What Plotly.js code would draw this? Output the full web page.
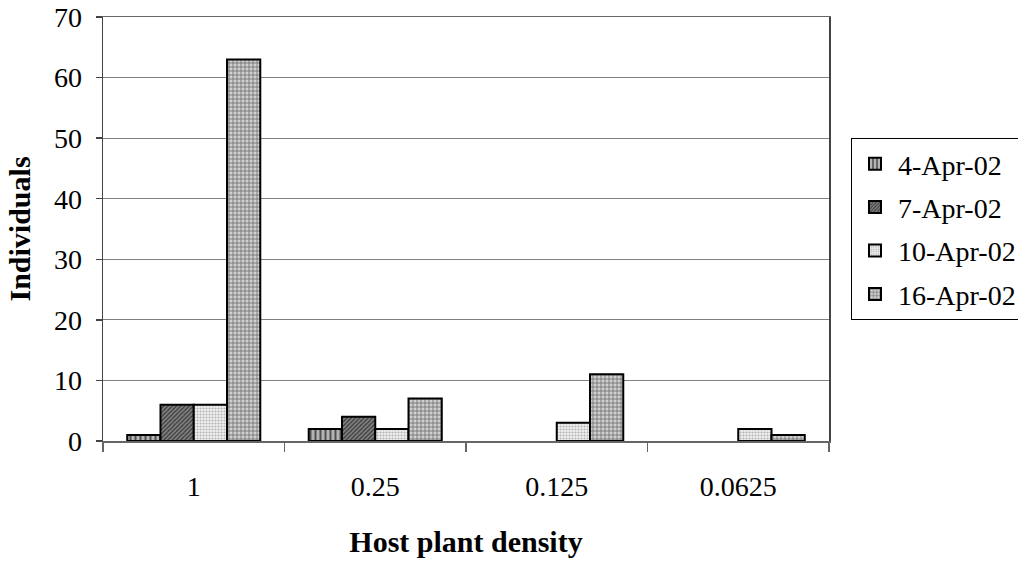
<!DOCTYPE html>
<html>
<head>
<meta charset="utf-8">
<script src="https://cdn.plot.ly/plotly-3.0.1.min.js"></script>
<style>
  html, body { margin: 0; padding: 0; background: #fff; }
  #chart { width: 1018px; height: 563px; }
</style>
</head>
<body>
<div id="chart"></div>
<script>
// Host plant density categories and counts per sampling date
const densities = ['1', '0.25', '0.125', '0.0625'];
const apr04 = [1, 2, 0, 0];
const apr07 = [6, 4, 0, 0];
const apr10 = [6, 2, 3, 2];
const apr16 = [63, 7, 11, 1];
const dateLabels = ['4-Apr-02', '7-Apr-02', '10-Apr-02', '16-Apr-02'];

const serif = 'Liberation Serif, Times New Roman, serif';

// Fill pattern for each sampling date
const styles = [
  { shape: '|', bg: '#b4b4b4', fg: '#505050', size: 5, solidity: 0.4 },
  { shape: '/', bg: '#858585', fg: '#3c3c3c', size: 3, solidity: 0.45 },
  { shape: '.', bg: '#f0f0f0', fg: '#b4b4b4', size: 3, solidity: 0.4 },
  { shape: '+', bg: '#d0d0d0', fg: '#6a6a6a', size: 4, solidity: 0.35 }
];

const series = [apr04, apr07, apr10, apr16];

const traces = series.map((vals, i) => ({
  type: 'bar',
  name: dateLabels[i],
  legendgroup: 'g' + i,
  x: densities,
  y: vals,
  marker: {
    color: styles[i].bg,
    // empty bars get no outline so nothing is drawn on the baseline
    line: { color: '#000', width: vals.map(v => (v === 0 ? 0 : 2)) },
    pattern: {
      shape: styles[i].shape,
      bgcolor: styles[i].bg,
      fgcolor: styles[i].fg,
      size: styles[i].size,
      solidity: styles[i].solidity
    }
  },
  hoverinfo: 'x+y+name'
}));

const layout = {
  width: 1018,
  height: 563,
  paper_bgcolor: '#fff',
  plot_bgcolor: '#fff',
  margin: { l: 103, r: 189, t: 17, b: 122, autoexpand: false },
  barmode: 'group',
  bargap: 0.267,
  bargroupgap: 0,
  font: { family: serif, size: 28, color: '#000' },
  showlegend: true,
  legend: {
    x: 1.0303, xanchor: 'left',
    y: 0.7146, yanchor: 'top',
    bordercolor: '#000', borderwidth: 1,
    bgcolor: '#fff',
    font: { family: serif, size: 28, color: '#000' },
    traceorder: 'grouped',
    tracegroupgap: 4,
    itemwidth: 36
  },
  xaxis: {
    type: 'category',
    showline: true, linecolor: '#666', linewidth: 1.5, mirror: true,
    ticks: 'outside', tickson: 'boundaries', ticklen: 9, tickcolor: '#666', tickwidth: 1.5,
    ticklabelstandoff: 20,
    tickfont: { family: serif, size: 28, color: '#000' },
    showgrid: false, zeroline: false,
    title: { text: '<b>Host plant density</b>', font: { family: serif, size: 30, color: '#000' }, standoff: 30 },
    automargin: false
  },
  yaxis: {
    range: [0, 70], dtick: 10,
    showline: true, linecolor: '#444', linewidth: 1.5, mirror: true,
    ticks: 'outside', ticklen: 6, tickcolor: '#444', tickwidth: 1.5,
    ticklabelstandoff: 8,
    tickfont: { family: serif, size: 28, color: '#000' },
    showgrid: true, gridcolor: '#808080', gridwidth: 1.2,
    zeroline: false,
    title: { text: '<b>Individuals</b>', font: { family: serif, size: 30, color: '#000' }, standoff: 14 },
    automargin: false
  }
};

Plotly.newPlot('chart', traces, layout, { displayModeBar: false, staticPlot: true });
</script>
</body>
</html>
